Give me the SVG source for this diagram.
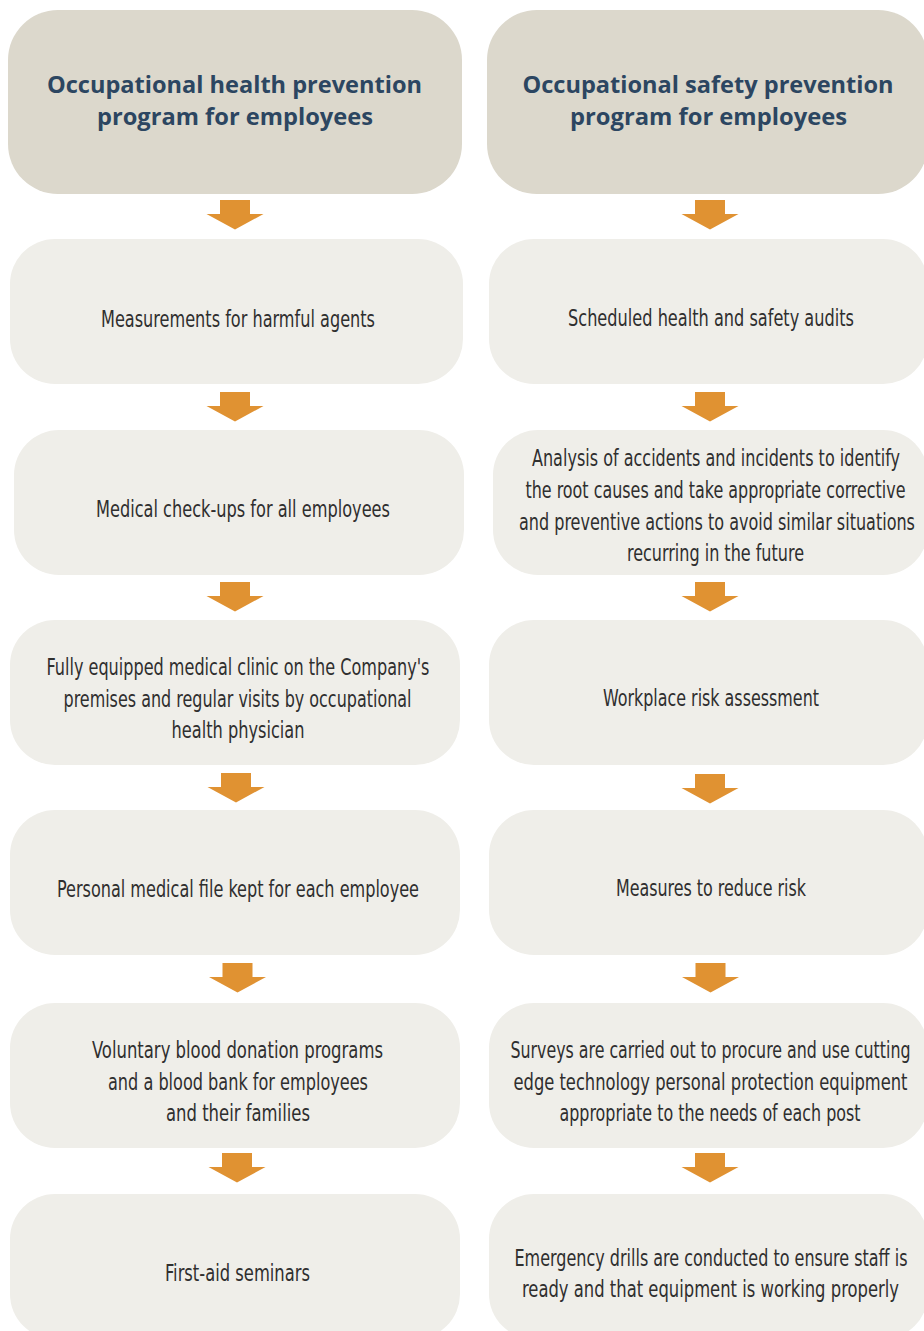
<svg xmlns="http://www.w3.org/2000/svg" xmlns:xlink="http://www.w3.org/1999/xlink" width="924" height="1331" viewBox="0 0 924 1331">
<style>
.hdr{fill:#dcd8cc}
.box{fill:#efeee9}
.ht{font-family:"Open Sans","Liberation Sans",sans-serif;font-weight:bold;font-size:24px;fill:#2c4661}
.bt{font-family:"Liberation Sans Narrow","DejaVu Sans Condensed","Roboto Condensed","Liberation Sans",sans-serif;font-stretch:condensed;font-size:23px;fill:#2f2f2f}
.arr{fill:#e09232}
</style>
<defs>
<path id="arrow" d="M-15,0 H15 V14 H28.5 L0,29.5 L-28.5,14 H-15 Z"/>
</defs>
<rect width="924" height="1331" fill="#ffffff"/>

<g id="left-header">
<rect class="hdr" x="8" y="10" width="454" height="184" rx="50" ry="50"/>
<text class="ht" x="234.5" y="92.5" text-anchor="middle" textLength="375" lengthAdjust="spacingAndGlyphs">Occupational health prevention</text>
<text class="ht" x="235" y="124.5" text-anchor="middle" textLength="276" lengthAdjust="spacingAndGlyphs">program for employees</text>
</g>
<g id="right-header">
<rect class="hdr" x="487" y="10" width="441" height="184" rx="50" ry="50"/>
<text class="ht" x="708" y="92.5" text-anchor="middle" textLength="371" lengthAdjust="spacingAndGlyphs">Occupational safety prevention</text>
<text class="ht" x="708.5" y="124.5" text-anchor="middle" textLength="277" lengthAdjust="spacingAndGlyphs">program for employees</text>
</g>

<g id="l1">
<rect class="box" x="10" y="239" width="453" height="145" rx="45" ry="45"/>
<text class="bt" transform="scale(0.78,1)" x="305.13" y="327" text-anchor="middle" textLength="351.28" lengthAdjust="spacingAndGlyphs">Measurements for harmful agents</text>
</g>
<g id="l2">
<rect class="box" x="14" y="430" width="450" height="145" rx="45" ry="45"/>
<text class="bt" transform="scale(0.78,1)" x="311.54" y="517" text-anchor="middle" textLength="376.92" lengthAdjust="spacingAndGlyphs">Medical check-ups for all employees</text>
</g>
<g id="l3">
<rect class="box" x="10" y="620" width="450" height="145" rx="45" ry="45"/>
<text class="bt" transform="scale(0.78,1)" x="305.13" y="675" text-anchor="middle" textLength="491.03" lengthAdjust="spacingAndGlyphs">Fully equipped medical clinic on the Company's</text>
<text class="bt" transform="scale(0.78,1)" x="304.49" y="707" text-anchor="middle" textLength="446.15" lengthAdjust="spacingAndGlyphs">premises and regular visits by occupational</text>
<text class="bt" transform="scale(0.78,1)" x="305.13" y="738.5" text-anchor="middle" textLength="170.51" lengthAdjust="spacingAndGlyphs">health physician</text>
</g>
<g id="l4">
<rect class="box" x="10" y="810" width="450" height="145" rx="45" ry="45"/>
<text class="bt" transform="scale(0.78,1)" x="305.13" y="897" text-anchor="middle" textLength="464.10" lengthAdjust="spacingAndGlyphs">Personal medical file kept for each employee</text>
</g>
<g id="l5">
<rect class="box" x="10" y="1003" width="450" height="145" rx="45" ry="45"/>
<text class="bt" transform="scale(0.78,1)" x="304.49" y="1058" text-anchor="middle" textLength="373.08" lengthAdjust="spacingAndGlyphs">Voluntary blood donation programs</text>
<text class="bt" transform="scale(0.78,1)" x="305.13" y="1090" text-anchor="middle" textLength="333.33" lengthAdjust="spacingAndGlyphs">and a blood bank for employees</text>
<text class="bt" transform="scale(0.78,1)" x="305.13" y="1121.5" text-anchor="middle" textLength="184.62" lengthAdjust="spacingAndGlyphs">and their families</text>
</g>
<g id="l6">
<rect class="box" x="10" y="1194" width="450" height="145" rx="45" ry="45"/>
<text class="bt" transform="scale(0.78,1)" x="304.49" y="1281.5" text-anchor="middle" textLength="185.90" lengthAdjust="spacingAndGlyphs">First-aid seminars</text>
</g>

<g id="r1">
<rect class="box" x="489" y="239" width="439" height="145" rx="45" ry="45"/>
<text class="bt" transform="scale(0.78,1)" x="911.54" y="326" text-anchor="middle" textLength="366.67" lengthAdjust="spacingAndGlyphs">Scheduled health and safety audits</text>
</g>
<g id="r2">
<rect class="box" x="493" y="430" width="435" height="145" rx="45" ry="45"/>
<text class="bt" transform="scale(0.78,1)" x="917.95" y="466.5" text-anchor="middle" textLength="471.79" lengthAdjust="spacingAndGlyphs">Analysis of accidents and incidents to identify</text>
<text class="bt" transform="scale(0.78,1)" x="917.31" y="498.5" text-anchor="middle" textLength="487.18" lengthAdjust="spacingAndGlyphs">the root causes and take appropriate corrective</text>
<text class="bt" transform="scale(0.78,1)" x="919.23" y="530" text-anchor="middle" textLength="507.69" lengthAdjust="spacingAndGlyphs">and preventive actions to avoid similar situations</text>
<text class="bt" transform="scale(0.78,1)" x="917.31" y="561.5" text-anchor="middle" textLength="226.92" lengthAdjust="spacingAndGlyphs">recurring in the future</text>
</g>
<g id="r3">
<rect class="box" x="489" y="620" width="439" height="145" rx="45" ry="45"/>
<text class="bt" transform="scale(0.78,1)" x="911.54" y="706" text-anchor="middle" textLength="276.92" lengthAdjust="spacingAndGlyphs">Workplace risk assessment</text>
</g>
<g id="r4">
<rect class="box" x="489" y="810" width="439" height="145" rx="45" ry="45"/>
<text class="bt" transform="scale(0.78,1)" x="911.54" y="896" text-anchor="middle" textLength="243.59" lengthAdjust="spacingAndGlyphs">Measures to reduce risk</text>
</g>
<g id="r5">
<rect class="box" x="489" y="1003" width="439" height="145" rx="45" ry="45"/>
<text class="bt" transform="scale(0.78,1)" x="910.90" y="1058" text-anchor="middle" textLength="512.82" lengthAdjust="spacingAndGlyphs">Surveys are carried out to procure and use cutting</text>
<text class="bt" transform="scale(0.78,1)" x="910.90" y="1090" text-anchor="middle" textLength="505.13" lengthAdjust="spacingAndGlyphs">edge technology personal protection equipment</text>
<text class="bt" transform="scale(0.78,1)" x="910.26" y="1121" text-anchor="middle" textLength="385.90" lengthAdjust="spacingAndGlyphs">appropriate to the needs of each post</text>
</g>
<g id="r6">
<rect class="box" x="489" y="1194" width="439" height="145" rx="45" ry="45"/>
<text class="bt" transform="scale(0.78,1)" x="911.54" y="1266" text-anchor="middle" textLength="503.85" lengthAdjust="spacingAndGlyphs">Emergency drills are conducted to ensure staff is</text>
<text class="bt" transform="scale(0.78,1)" x="910.90" y="1297.5" text-anchor="middle" textLength="483.33" lengthAdjust="spacingAndGlyphs">ready and that equipment is working properly</text>
</g>

<g id="connectors" class="arr">
<use xlink:href="#arrow" href="#arrow" x="235" y="200"/>
<use xlink:href="#arrow" href="#arrow" x="235" y="392"/>
<use xlink:href="#arrow" href="#arrow" x="235" y="582"/>
<use xlink:href="#arrow" href="#arrow" x="236" y="773"/>
<use xlink:href="#arrow" href="#arrow" x="237.5" y="963"/>
<use xlink:href="#arrow" href="#arrow" x="237" y="1153"/>
<use xlink:href="#arrow" href="#arrow" x="710" y="200"/>
<use xlink:href="#arrow" href="#arrow" x="710" y="392"/>
<use xlink:href="#arrow" href="#arrow" x="710" y="582"/>
<use xlink:href="#arrow" href="#arrow" x="710" y="774"/>
<use xlink:href="#arrow" href="#arrow" x="710.5" y="963"/>
<use xlink:href="#arrow" href="#arrow" x="710" y="1153"/>
</g>
</svg>
